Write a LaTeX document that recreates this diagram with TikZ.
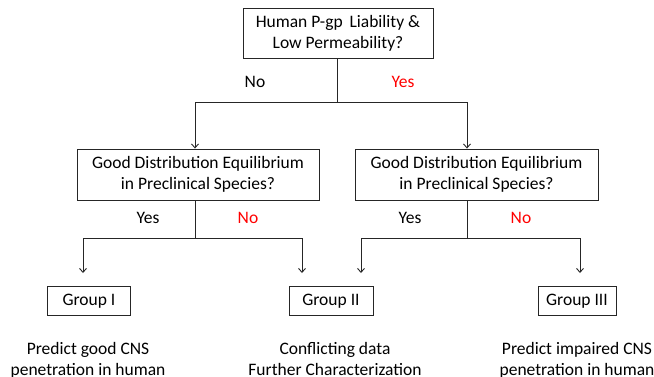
\documentclass[tikz,border=0pt]{standalone}
\usepackage{fontspec}
\setmainfont{Carlito}
\usetikzlibrary{arrows.meta}
\begin{document}
\begin{tikzpicture}[x=1pt,y=-1pt,
  font=\fontsize{17.5pt}{21pt}\selectfont,
  box/.style={draw=black!85, line width=0.9pt, inner sep=0pt, align=center},
  conn/.style={line width=0.9pt, draw=black!85},
  arr/.style={conn, -{Straight Barb[length=4pt,width=7pt]}},
  lbl/.style={inner sep=0pt},
  redlbl/.style={lbl, text=red},
  outtext/.style={inner sep=0pt, align=center, anchor=north}]
\useasboundingbox (0,0) rectangle (654,376);
% boxes
\node[box, minimum width=190pt, minimum height=50pt] (top) at (338,33) {Human P-gp\, Liability \&\\Low Permeability?};
\node[box, minimum width=242pt, minimum height=51pt] (L) at (198,174.5) {Good Distribution Equilibrium\\in Preclinical Species?};
\node[box, minimum width=243pt, minimum height=51pt] (R) at (476.5,174.5) {Good Distribution Equilibrium\\in Preclinical Species?};
\node[box, minimum width=83pt, minimum height=28.5pt] (g1) at (89,301) {Group I};
\node[box, minimum width=84pt, minimum height=28.5pt] (g2) at (331,301) {Group II};
\node[box, minimum width=78pt, minimum height=28.5pt] (g3) at (577,301) {Group III};
% labels
\node[lbl] (no1) at (255,82) {No};
\node[redlbl] (yes1) at (403,82) {Yes};
\node[lbl] (yes2) at (148,218) {Yes};
\node[redlbl] (no2) at (248,218) {No};
\node[lbl] (yes3) at (410,218) {Yes};
\node[redlbl] (no3) at (521,218) {No};
% outcome texts
\node[outtext] (o1) at (88,342) {Predict good CNS\\penetration in human};
\node[outtext] (o2) at (335,342) {Conflicting data\\Further Characterization};
\node[outtext] (o3) at (577,342) {Predict impaired CNS\\penetration in human};
% level 1 connectors
\coordinate (j1) at (337,102);
\coordinate (h1l) at (195,102);
\coordinate (h1r) at (467,102);
\draw[conn] (top.south -| j1) -- (j1);
\draw[conn] (h1l) -- (h1r);
\draw[arr] (h1l) -- (h1l |- L.north);
\draw[arr] (h1r) -- (h1r |- R.north);
% level 2 left
\coordinate (j2) at (195,238);
\coordinate (a1) at (83,238);
\coordinate (a2) at (302,238);
\coordinate (t1) at (83,273);
\coordinate (t2) at (302,273);
\draw[conn] (L.south -| j2) -- (j2);
\draw[conn] (a1) -- (a2);
\draw[arr] (a1) -- (t1);
\draw[arr] (a2) -- (t2);
% level 2 right
\coordinate (j3) at (467,238);
\coordinate (b1) at (361,238);
\coordinate (b2) at (580,238);
\coordinate (t3) at (361,273);
\coordinate (t4) at (580,273);
\draw[conn] (R.south -| j3) -- (j3);
\draw[conn] (b1) -- (b2);
\draw[arr] (b1) -- (t3);
\draw[arr] (b2) -- (t4);
\end{tikzpicture}
\end{document}
